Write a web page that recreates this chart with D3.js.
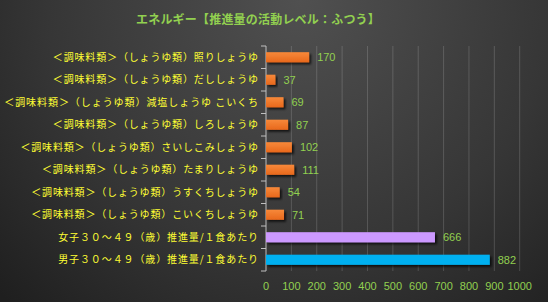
<!DOCTYPE html>
<html><head><meta charset="utf-8">
<script src="https://cdn.jsdelivr.net/npm/d3@7"></script>
<style>html,body{margin:0;padding:0;background:#2a2a2a;}svg{display:block;}</style>
</head><body>
<script>
const categories = [
  "＜調味料類＞（しょうゆ類）照りしょうゆ",
  "＜調味料類＞（しょうゆ類）だししょうゆ",
  "＜調味料類＞（しょうゆ類）減塩しょうゆ こいくち",
  "＜調味料類＞（しょうゆ類）しろしょうゆ",
  "＜調味料類＞（しょうゆ類）さいしこみしょうゆ",
  "＜調味料類＞（しょうゆ類）たまりしょうゆ",
  "＜調味料類＞（しょうゆ類）うすくちしょうゆ",
  "＜調味料類＞（しょうゆ類）こいくちしょうゆ",
  "女子３０～４９（歳）推進量/１食あたり",
  "男子３０～４９（歳）推進量/１食あたり"
];
const values = [170, 37, 69, 87, 102, 111, 54, 71, 666, 882];
const colorKeys = ["o","o","o","o","o","o","o","o","p","b"];
const xTicks = [0,100,200,300,400,500,600,700,800,900,1000];
const title = "エネルギー【推進量の活動レベル：ふつう】";

const W = 548, H = 302;
const svg = d3.select("body").append("svg").attr("width", W).attr("height", H);
const defs = svg.append("defs");
const bg = defs.append("radialGradient").attr("id","bg").attr("gradientUnits","userSpaceOnUse")
  .attr("cx",300).attr("cy",0).attr("r",420);
bg.append("stop").attr("offset","0%").attr("stop-color","#505050");
bg.append("stop").attr("offset","60%").attr("stop-color","#363636");
bg.append("stop").attr("offset","100%").attr("stop-color","#1f1f1f");
const og = defs.append("linearGradient").attr("id","og").attr("x1",0).attr("y1",0).attr("x2",0).attr("y2",1);
og.append("stop").attr("offset","0%").attr("stop-color","#f7893a");
og.append("stop").attr("offset","100%").attr("stop-color","#e8681c");
const f = defs.append("filter").attr("id","sh").attr("x","-10%").attr("y","-50%").attr("width","130%").attr("height","250%");
f.append("feDropShadow").attr("dx",2).attr("dy",2).attr("stdDeviation",1.2).attr("flood-color","#000").attr("flood-opacity",0.7);

svg.append("rect").attr("width",W).attr("height",H).attr("fill","url(#bg)");

const x = d3.scaleLinear().domain([0,1000]).range([266, 519.7]);
const y = d3.scaleBand().domain(categories).range([46, 271]).paddingInner(0.55).paddingOuter(0.275);
const yB = d3.scaleBand().domain(categories).range([46, 271]);
const colors = {o:"url(#og)", p:"#cc99ff", b:"#00b0f0"};

// gridlines
svg.append("g").selectAll("line").data(xTicks.slice(1)).join("line")
  .attr("x1",d=>x(d)).attr("x2",d=>x(d)).attr("y1",46).attr("y2",271)
  .attr("stroke","rgba(255,255,255,0.16)").attr("stroke-width",1);

// y axis
const yAxis = svg.append("g").attr("transform","translate(266,0)");
yAxis.append("line").attr("x1",0).attr("x2",0).attr("y1",46).attr("y2",271).attr("stroke","#bfbfbf");
const bounds = categories.map(c=>yB(c)).concat([271]);
yAxis.selectAll("line.t").data(bounds).join("line").attr("class","t")
  .attr("x1",-5).attr("x2",0).attr("y1",d=>d).attr("y2",d=>d).attr("stroke","#bfbfbf");
const labels = yAxis.selectAll("text").data(categories).join("text")
  .attr("x",-8).attr("y",d=>yB(d)+yB.bandwidth()/2).attr("dy","0.36em")
  .attr("text-anchor","end").attr("fill","#ffff33")
  .style("font-family","'Noto Sans CJK JP', sans-serif").style("font-size","10px")
  .text(d=>d);
// fit label widths to about 10.8px per full-width character as in the reference
labels.each(function(d){
  const n = Array.from(d).reduce((s,ch)=> s + (ch.charCodeAt(0) < 128 ? 0.5 : 1), 0);
  d3.select(this).attr("textLength", n * 10.8).attr("lengthAdjust","spacing");
});

// bars
svg.append("g").selectAll("rect").data(categories).join("rect")
  .attr("x",x(0)).attr("y",d=>y(d)).attr("height",y.bandwidth())
  .attr("width",(d,i)=>x(values[i])-x(0)).attr("fill",(d,i)=>colors[colorKeys[i]])
  .attr("filter","url(#sh)");

// value labels
svg.append("g").selectAll("text").data(categories).join("text")
  .attr("x",(d,i)=>x(values[i])+8).attr("y",d=>y(d)+y.bandwidth()/2).attr("dy","0.36em")
  .attr("fill","#92d050").style("font-family","'Liberation Sans', Arial, sans-serif").style("font-size","11px")
  .text((d,i)=>values[i]);

// x tick labels
svg.append("g").selectAll("text").data(xTicks).join("text")
  .attr("x",d=>x(d)).attr("y",286).attr("dy","0.36em").attr("text-anchor","middle")
  .attr("fill","#92d050").style("font-family","'Liberation Sans', Arial, sans-serif").style("font-size","11px")
  .text(d=>d);

// title
svg.append("text").attr("x",258).attr("y",20).attr("dy","0.36em").attr("text-anchor","middle")
  .attr("fill","#92d050").style("font-family","'Noto Sans CJK JP', sans-serif").style("font-size","12px")
  .style("font-weight","bold").style("letter-spacing","0.2px").text(title);
</script>
</body></html>
